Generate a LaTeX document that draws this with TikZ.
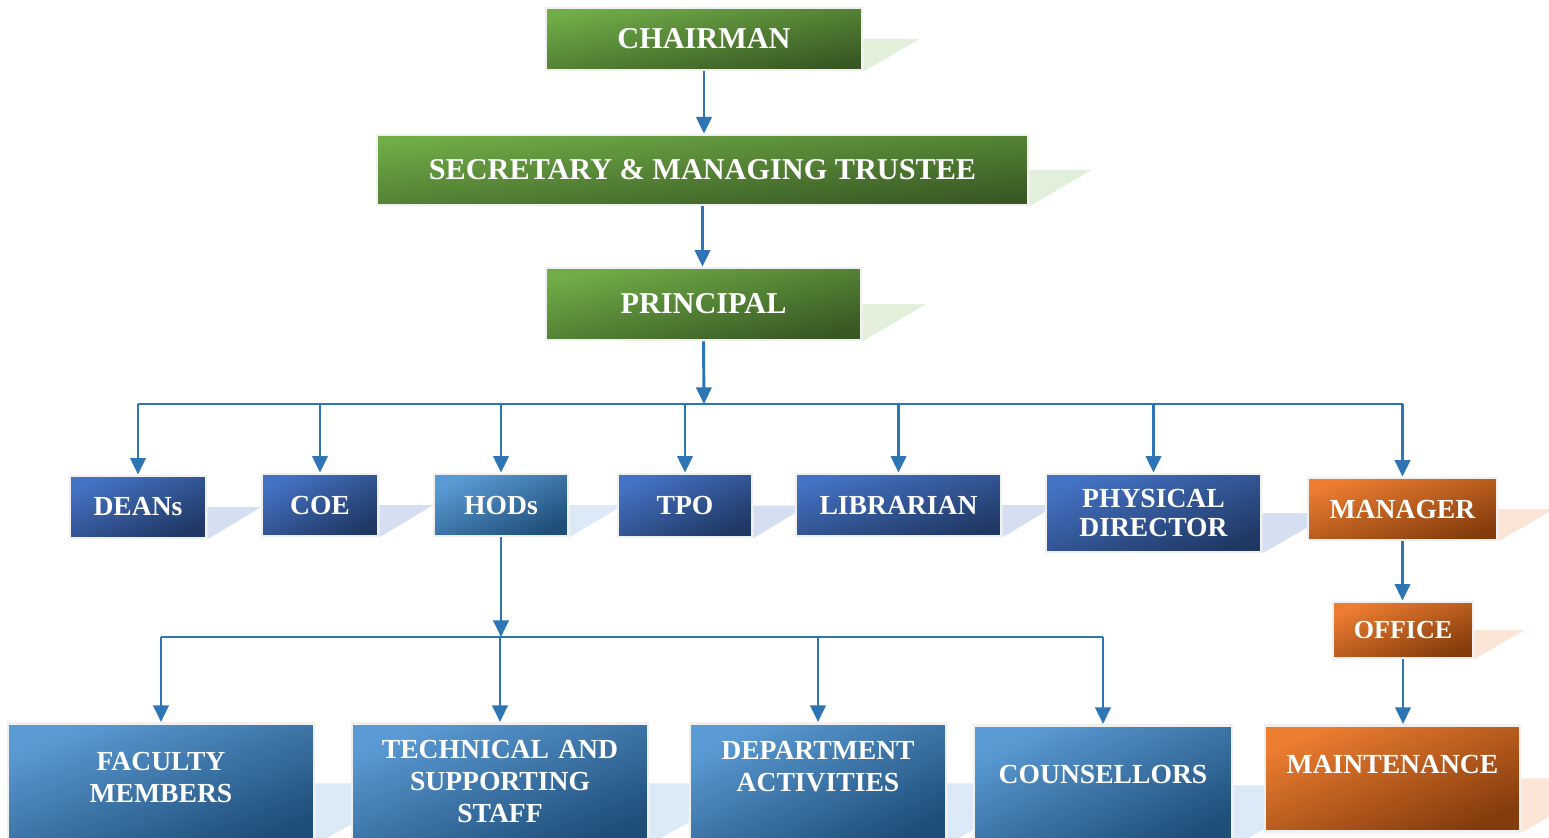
\documentclass[tikz,border=0pt]{standalone}
\usepackage{fontspec}
\setmainfont{Liberation Serif}
\usetikzlibrary{arrows.meta,backgrounds}

\definecolor{greenA}{RGB}{112,173,71}
\definecolor{greenB}{RGB}{56,87,35}
\definecolor{blueA}{RGB}{68,114,196}
\definecolor{blueB}{RGB}{32,56,100}
\definecolor{skyA}{RGB}{91,155,213}
\definecolor{skyB}{RGB}{31,78,121}
\definecolor{orangeA}{RGB}{237,125,49}
\definecolor{orangeB}{RGB}{132,60,12}
\definecolor{foldgreen}{RGB}{226,239,218}
\definecolor{foldblue}{RGB}{214,222,241}
\definecolor{foldsky}{RGB}{220,233,246}
\definecolor{foldorange}{RGB}{251,229,214}
\definecolor{edgegray}{RGB}{240,240,240}
\definecolor{linkblue}{RGB}{46,117,182}

\tikzset{every picture/.style={line width=0.75pt}}
\tikzset{
  box/.style={draw=edgegray, line width=2pt, inner sep=0pt, text=white, align=center,
    font=\bfseries\fontsize{20.7}{22}\selectfont},
  greenbox/.style={box, top color=greenA, bottom color=greenB, shading angle=#1,
    font=\bfseries\fontsize{22.7}{26}\selectfont},
  bluebox/.style={box, top color=blueA, bottom color=blueB, shading angle=#1},
  skybox/.style={box, top color=skyA, bottom color=skyB, shading angle=#1},
  orangebox/.style={box, top color=orangeA, bottom color=orangeB, shading angle=#1},
  lowbox/.style={anchor=north, font=\bfseries\fontsize{20.7}{24}\selectfont},
  link/.style={draw=linkblue, line width=2.2pt},
  arr/.style={link, -{Triangle[width=11.5pt,length=12.5pt]}}
}

\begin{document}
\begin{tikzpicture}[x=0.75pt,y=0.75pt,yscale=-1,xscale=1]
\useasboundingbox (0,0) rectangle (1549,838);

% Top of the chart
\node[greenbox=11, minimum width=237pt, minimum height=46.5pt] (chair) at (704,39) {CHAIRMAN};
\node[greenbox=6, minimum width=488.25pt, minimum height=52.5pt] (secr) at (702.5,170) {SECRETARY \& MANAGING TRUSTEE};
\node[greenbox=13, minimum width=236.25pt, minimum height=54pt] (princ) at (703.5,304) {PRINCIPAL};

% Second row
\node[bluebox=24, minimum width=102pt, minimum height=46.5pt] (deans) at (138,507) {DEANs};
\node[bluebox=28, minimum width=87pt, minimum height=46.5pt] (coe) at (320,505) {COE};
\node[skybox=25, minimum width=100.5pt, minimum height=46.5pt] (hods) at (501,505) {HODs};
\node[bluebox=25, minimum width=100.5pt, minimum height=47.25pt] (tpo) at (685,505.5) {TPO};
\node[bluebox=17, minimum width=153.75pt, minimum height=46.5pt] (lib) at (898.5,505) {LIBRARIAN};
\node[bluebox=20, minimum width=161.25pt, minimum height=58.5pt] (phys) at (1153.5,513) {PHYSICAL\\DIRECTOR};
\node[orangebox=18, minimum width=141.75pt, minimum height=46.5pt] (mgr) at (1402.5,509) {MANAGER};

% Office side
\node[orangebox=22, minimum width=105pt, minimum height=42pt, font=\bfseries\fontsize{19.5}{22}\selectfont] (office) at (1403,630) {OFFICE};
\node[orangebox=23, lowbox, minimum width=191.25pt, minimum height=79.5pt, text width=180pt, text height=36pt, text depth=43.5pt] (maint) at (1392.5,724) {MAINTENANCE};

% Third row
\node[skybox=21, lowbox, minimum width=229.5pt, minimum height=90pt, text width=210pt, text height=35.25pt, text depth=54.75pt] (fac) at (161,722) {FACULTY\\MEMBERS};
\node[skybox=22, lowbox, minimum width=222pt, minimum height=90pt, text width=210pt, text height=26.25pt, text depth=63.75pt] (tech) at (500,722) {TECHNICAL AND\\SUPPORTING\\STAFF};
\node[skybox=25, lowbox, minimum width=192pt, minimum height=90pt, text width=185pt, text height=27pt, text depth=63pt] (dept) at (818,722) {DEPARTMENT\\ACTIVITIES};
\node[skybox=25, lowbox, minimum width=193.5pt, minimum height=90pt, text width=185pt, text height=43.5pt, text depth=46.5pt] (couns) at (1103,724) {COUNSELLORS};

% Bus lines
\coordinate (bus) at (704,404);
\coordinate (bus2) at (501,637);

% Connectors
\draw[arr] (chair.south) -- (chair.south |- secr.north);
\draw[arr] (secr.south) -- (secr.south |- princ.north);
\draw[arr] (princ.south) -- (bus);
\draw[link] (bus -| deans.north) -- (bus -| mgr.north);
\draw[arr] (bus -| deans.north) -- (deans.north);
\draw[arr] (bus -| coe.north) -- (coe.north);
\draw[arr] (bus -| hods.north) -- (hods.north);
\draw[arr] (bus -| tpo.north) -- (tpo.north);
\draw[arr] (bus -| lib.north) -- (lib.north);
\draw[arr] (bus -| phys.north) -- (phys.north);
\draw[arr] (bus -| mgr.north) -- (mgr.north);
\draw[arr] (hods.south) -- (bus2);
\draw[link] (bus2 -| fac.north) -- (bus2 -| couns.north);
\draw[arr] (bus2 -| fac.north) -- (fac.north);
\draw[arr] (bus2 -| tech.north) -- (tech.north);
\draw[arr] (bus2 -| dept.north) -- (dept.north);
\draw[arr] (bus2 -| couns.north) -- (couns.north);
\draw[arr] (mgr.south) -- (mgr.south |- office.north);
\draw[arr] (office.south) -- (office.south |- maint.north);

% Folds behind the boxes
\begin{scope}[on background layer]
\fill[white] (0,0) rectangle (1549,838);
\fill[foldgreen] (chair.east) -- ++(56,0) -- (chair.south east) -- cycle;
\fill[foldgreen] (secr.east) -- ++(62,0) -- (secr.south east) -- cycle;
\fill[foldgreen] (princ.east) -- ++(64,0) -- (princ.south east) -- cycle;
\fill[foldblue] (deans.east) -- ++(54,0) -- (deans.south east) -- cycle;
\fill[foldblue] (coe.east) -- ++(54,0) -- (coe.south east) -- cycle;
\fill[foldsky] (hods.east) -- ++(54,0) -- (hods.south east) -- cycle;
\fill[foldblue] (tpo.east) -- ++(54,0) -- (tpo.south east) -- cycle;
\fill[foldblue] (lib.east) -- ++(54,0) -- (lib.south east) -- cycle;
\fill[foldblue] (phys.east) -- ++(70,0) -- (phys.south east) -- cycle;
\fill[foldorange] (mgr.east) -- ++(56,0) -- (mgr.south east) -- cycle;
\fill[foldorange] (office.east) -- ++(50,0) -- (office.south east) -- cycle;
\fill[foldorange] (maint.east) -- ++(95,0) -- (maint.south east) -- cycle;
\fill[foldsky] (fac.east) -- ++(108,0) -- (fac.south east) -- cycle;
\fill[foldsky] (tech.east) -- ++(108,0) -- (tech.south east) -- cycle;
\fill[foldsky] (dept.east) -- ++(108,0) -- (dept.south east) -- cycle;
\fill[foldsky] (couns.east) -- ++(108,0) -- (couns.south east) -- cycle;
\end{scope}

\end{tikzpicture}
\end{document}
